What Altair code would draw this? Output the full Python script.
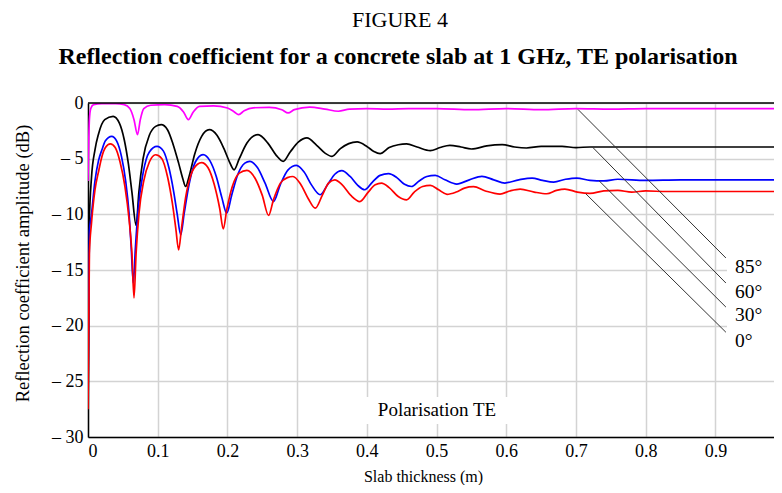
import altair as alt
import pandas as pd

# ---------------- data ----------------
x_0 = [0.000, 0.002, 0.005, 0.010, 0.015, 0.020, 0.025, 0.032, 0.039, 0.046, 0.053, 0.059, 0.063, 0.066,
       0.069, 0.073, 0.080, 0.088, 0.097, 0.106, 0.114, 0.121, 0.126, 0.130, 0.134, 0.140, 0.148, 0.157,
       0.163, 0.172, 0.181, 0.189, 0.194, 0.199, 0.207, 0.217, 0.228, 0.240, 0.250, 0.259, 0.266, 0.276,
       0.286, 0.294, 0.305, 0.316, 0.326, 0.336, 0.345, 0.354, 0.364, 0.377, 0.390, 0.402, 0.412, 0.421,
       0.432, 0.445, 0.457, 0.468, 0.480, 0.491, 0.503, 0.515, 0.528, 0.540, 0.553, 0.570, 0.591, 0.605,
       0.620, 0.640, 0.658, 0.672, 0.684, 0.702, 0.720, 0.740, 0.760, 0.780, 0.800, 0.830, 0.860, 0.900,
       0.950, 1.000]
y_0 = [-27.5, -13.5, -10.8, -7.8, -6.2, -4.8, -4.0, -3.68, -4.0, -5.3, -7.5, -10.5, -13.5, -17.5,
       -13.5, -10.0, -7.0, -5.3, -4.65, -5.0, -6.6, -9.0, -11.3, -13.2, -11.3, -8.5, -6.4, -5.5,
       -5.35, -5.8, -7.3, -9.5, -11.3, -9.6, -7.5, -6.3, -6.05, -6.8, -8.3, -10.1, -8.7, -7.2,
       -6.7, -6.6, -7.3, -8.6, -9.45, -8.3, -7.2, -6.9, -7.3, -8.3, -8.85, -8.0, -7.35, -7.2,
       -7.6, -8.4, -8.7, -8.0, -7.5, -7.4, -7.8, -8.2, -8.0, -7.65, -7.52, -7.9, -8.18, -7.9,
       -7.73, -8.0, -8.15, -7.85, -7.73, -8.0, -8.12, -7.9, -7.85, -8.0, -7.9, -7.95, -7.95, -7.95,
       -7.95, -7.95]

x_30 = [0.000, 0.002, 0.005, 0.010, 0.015, 0.020, 0.025, 0.034, 0.041, 0.048, 0.054, 0.059, 0.062, 0.065,
        0.068, 0.072, 0.079, 0.088, 0.099, 0.108, 0.116, 0.123, 0.128, 0.133, 0.138, 0.145, 0.154, 0.165,
        0.175, 0.184, 0.192, 0.199, 0.206, 0.215, 0.225, 0.232, 0.243, 0.254, 0.266, 0.276, 0.287, 0.299,
        0.310, 0.321, 0.333, 0.344, 0.354, 0.364, 0.376, 0.387, 0.397, 0.408, 0.419, 0.431, 0.443, 0.454,
        0.464, 0.475, 0.486, 0.498, 0.512, 0.529, 0.547, 0.565, 0.582, 0.598, 0.618, 0.637, 0.652, 0.668,
        0.685, 0.701, 0.720, 0.740, 0.760, 0.800, 0.850, 0.900, 0.950, 1.000]
y_30 = [-26.3, -11.5, -10.0, -7.0, -5.2, -4.2, -3.4, -3.0, -3.4, -4.8, -7.0, -10.0, -13.0, -16.2,
        -13.0, -9.5, -6.3, -4.4, -3.9, -4.3, -5.8, -8.0, -10.0, -11.85, -9.9, -7.3, -5.3, -4.64,
        -5.2, -6.6, -8.5, -9.9, -8.3, -6.4, -5.4, -5.24, -5.8, -7.2, -8.85, -7.3, -6.0, -5.6,
        -6.2, -7.4, -8.24, -7.3, -6.4, -6.08, -6.6, -7.4, -7.79, -7.1, -6.5, -6.35, -6.7, -7.3,
        -7.5, -7.0, -6.6, -6.5, -6.9, -7.28, -6.9, -6.59, -6.9, -7.19, -6.9, -6.74, -6.95, -7.1,
        -6.85, -6.74, -6.95, -7.0, -6.85, -6.95, -6.9, -6.9, -6.9, -6.9]

x_60 = [0.000, 0.002, 0.005, 0.010, 0.015, 0.024, 0.036, 0.045, 0.052, 0.058, 0.063, 0.069, 0.073, 0.079,
        0.088, 0.097, 0.105, 0.114, 0.122, 0.130, 0.136, 0.140, 0.145, 0.153, 0.163, 0.174, 0.185, 0.195,
        0.203, 0.2095, 0.217, 0.228, 0.244, 0.258, 0.270, 0.280, 0.290, 0.302, 0.314, 0.328, 0.340, 0.350,
        0.362, 0.374, 0.386, 0.400, 0.410, 0.419, 0.432, 0.445, 0.457, 0.472, 0.491, 0.505, 0.519, 0.535,
        0.550, 0.572, 0.594, 0.612, 0.629, 0.650, 0.680, 0.700, 0.720, 0.750, 0.800, 0.850, 0.900, 1.000]
y_60 = [-29.5, -10.5, -6.7, -4.2, -2.8, -1.5, -1.2, -1.8, -3.3, -5.5, -8.0, -11.0, -8.0, -5.0,
        -2.9, -2.1, -1.95, -2.4, -3.7, -5.4, -6.8, -7.5, -6.6, -4.6, -3.0, -2.4, -2.9, -4.1,
        -5.3, -6.0, -5.0, -3.6, -2.84, -3.6, -4.7, -5.24, -4.4, -3.5, -3.14, -3.8, -4.5, -4.79,
        -4.1, -3.65, -3.5, -3.9, -4.35, -4.55, -4.0, -3.75, -3.68, -3.95, -4.28, -4.0, -3.8, -3.95,
        -4.13, -3.85, -3.74, -3.95, -4.04, -3.9, -3.9, -4.0, -3.95, -3.95, -3.95, -3.95, -3.95, -3.95]

x_85 = [0.000, 0.002, 0.004, 0.008, 0.020, 0.040, 0.052, 0.060, 0.066, 0.071, 0.075, 0.080, 0.090, 0.110,
        0.128, 0.137, 0.144, 0.151, 0.160, 0.180, 0.200, 0.210, 0.216, 0.224, 0.237, 0.260, 0.278, 0.287,
        0.296, 0.318, 0.340, 0.359, 0.375, 0.400, 0.430, 0.460, 0.500, 0.550, 0.600, 0.650, 0.700, 0.750,
        0.800, 1.000]
y_85 = [-7.0, -1.5, -0.5, -0.15, -0.05, -0.05, -0.15, -0.5, -1.5, -2.84, -1.5, -0.5, -0.2, -0.15,
        -0.3, -0.8, -1.49, -0.8, -0.3, -0.25, -0.45, -0.8, -1.04, -0.7, -0.43, -0.4, -0.6, -0.89,
        -0.6, -0.37, -0.55, -0.74, -0.55, -0.5, -0.55, -0.5, -0.5, -0.6, -0.5, -0.6, -0.5, -0.55,
        -0.5, -0.5]

angles = ["85°", "60°", "30°", "0°"]
colors = ["#ff00ff", "#000000", "#0000ff", "#ff0000"]

# leader lines and their labels (85°, 60°, 30°, 0°)
lead_x1 = [0.703, 0.723, 0.733, 0.714]
lead_y1 = [-0.59, -3.92, -6.98, -8.15]
lead_x2 = [0.915, 0.915, 0.915, 0.915]
lead_y2 = [-13.92, -16.17, -18.33, -20.59]
label_x = [0.928, 0.928, 0.928, 0.928]
label_y = [-14.73, -16.98, -19.05, -21.4]

x_ticks = [0, 0.1, 0.2, 0.3, 0.4, 0.5, 0.6, 0.7, 0.8, 0.9, 1]
y_ticks = [0, -5, -10, -15, -20, -25, -30]

fig_label = "FIGURE 4"
title_text = "Reflection coefficient for a concrete slab at 1 GHz, TE polarisation"
x_title = "Slab thickness (m)"
y_title = "Reflection coefficient amplitude (dB)"
note_text = "Polarisation TE"

# ---------------- build tables ----------------
series = {"85°": (x_85, y_85), "60°": (x_60, y_60), "30°": (x_30, y_30), "0°": (x_0, y_0)}
rows = []
for name, (xs, ys) in series.items():
    for xv, yv in zip(xs, ys):
        rows.append({"angle": name, "t": xv, "r": yv})
curves = pd.DataFrame(rows)

leaders = pd.DataFrame({"angle": angles, "x1": lead_x1, "y1": lead_y1, "x2": lead_x2, "y2": lead_y2,
                        "lx": label_x, "ly": label_y})

# the reference is cropped just short of x = 1 on its right side
W, H = 686, 334
X_MAX = 0.984
SERIF = "Liberation Serif"

xscale = alt.Scale(domain=[0, X_MAX], nice=False, zero=False)
yscale = alt.Scale(domain=[-30, 0], nice=False, zero=False)

x_enc = alt.X("t:Q", scale=xscale, axis=alt.Axis(
    values=x_ticks, format="~g", title=x_title, grid=True, ticks=False,
    labelFont=SERIF, labelFontSize=18, labelPadding=5, labelColor="black",
    titleFont=SERIF, titleFontSize=16, titleFontWeight="normal", titleColor="black",
    titleX=335, titleY=39, titleAlign="center", titleBaseline="middle", titleAnchor="start",
    domainColor="black", domainWidth=1.5, gridColor="#d3d3d3", gridWidth=1.5))
y_enc = alt.Y("r:Q", scale=yscale, axis=alt.Axis(
    values=y_ticks, labelExpr="datum.value == 0 ? '0' : '\u2013 ' + abs(datum.value)",
    title=y_title, grid=True, ticks=False,
    labelFont=SERIF, labelFontSize=18, labelPadding=5, labelColor="black",
    titleFont=SERIF, titleFontSize=18.5, titleFontWeight="normal", titleColor="black",
    titleX=-66, titleY=160, titleAlign="center", titleBaseline="middle", titleAngle=-90,
    titleAnchor="start",
    domainColor="black", domainWidth=1.5, gridColor="#d3d3d3", gridWidth=1.5))

lines = alt.Chart(curves).mark_line(strokeWidth=1.7, interpolate="monotone", clip=True).encode(
    x=x_enc, y=y_enc,
    color=alt.Color("angle:N", scale=alt.Scale(domain=angles, range=colors), legend=None),
    order=alt.Order("t:Q"),
)

one = pd.DataFrame({"k": [0]})

top_border = alt.Chart(one).mark_rule(color="black", strokeWidth=1.5).encode(
    x=alt.value(0), x2=alt.value(W), y=alt.value(0))

label_box = alt.Chart(one).mark_rect(color="white").encode(
    x=alt.value(639), x2=alt.value(690), y=alt.value(155), y2=alt.value(247))
note_box = alt.Chart(one).mark_rect(color="white").encode(
    x=alt.value(276), x2=alt.value(424), y=alt.value(294), y2=alt.value(321))

leader_rules = alt.Chart(leaders).mark_rule(color="#333333", strokeWidth=1).encode(
    x="x1:Q", y="y1:Q", x2="x2:Q", y2="y2:Q")
leader_text = alt.Chart(leaders).mark_text(
    align="left", baseline="middle", font=SERIF, fontSize=19.5, color="black").encode(
    x="lx:Q", y="ly:Q", text="angle:N")

note = alt.Chart(pd.DataFrame({"s": [note_text]})).mark_text(
    align="center", baseline="middle", font=SERIF, fontSize=19, color="black").encode(
    x=alt.value(349), y=alt.value(307), text="s:N")

fig = alt.Chart(pd.DataFrame({"s": [fig_label]})).mark_text(
    align="center", baseline="middle", font=SERIF, fontSize=22, color="black").encode(
    x=alt.value(312), y=alt.value(-83), text="s:N")
ttl = alt.Chart(pd.DataFrame({"s": [title_text]})).mark_text(
    align="center", baseline="middle", font=SERIF, fontSize=24, fontWeight="bold", color="black").encode(
    x=alt.value(310), y=alt.value(-46), text="s:N")

chart = alt.layer(
    lines, label_box, note_box, top_border, leader_rules, leader_text, note, fig, ttl
).properties(
    width=W, height=H,
    autosize=alt.AutoSizeParams(type="none"),
    padding={"left": 80, "top": 95, "right": 0, "bottom": 48},
).configure_view(stroke=None).configure(background="white")

chart.save("out.html", embed_options={"renderer": "svg", "actions": False})
